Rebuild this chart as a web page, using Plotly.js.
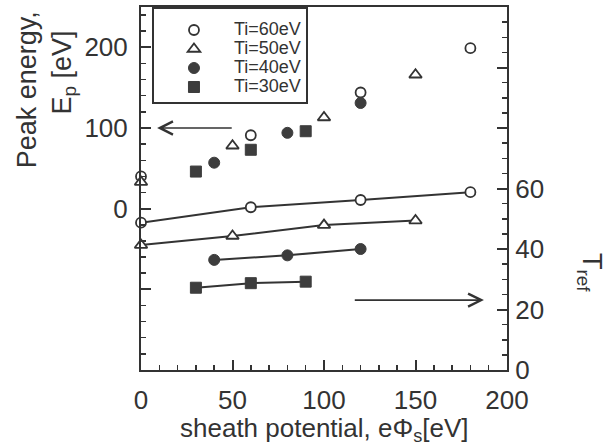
<!DOCTYPE html>
<html>
<head>
<meta charset="utf-8">
<script src="https://cdn.plot.ly/plotly-3.0.1.min.js"></script>
<style>html,body{margin:0;padding:0;background:#fff;}#chart{width:614px;height:446px;}</style>
</head>
<body>
<div id="chart"></div>
<script>
// Sheath potential (x) for each ion temperature
const phi60 = [0, 60, 120, 180];
const phi50 = [0, 50, 100, 150];
const phi40 = [40, 80, 120];
const phi30 = [30, 60, 90];

// Peak energy Ep [eV] (left axis)
const ep60 = [40, 91, 144, 199];
const ep50 = [33, 78, 113, 166];
const ep40 = [57, 94, 131];
const ep30 = [46, 73, 96];

// T_ref (right axis)
const tref60 = [48.7, 53.8, 56.2, 58.8];
const tref50 = [41.3, 44.3, 47.9, 49.4];
const tref40 = [36.4, 37.9, 40.0];
const tref30 = [27.2, 28.7, 29.2];

const seriesNames = ['Ti=60eV', 'Ti=50eV', 'Ti=40eV', 'Ti=30eV'];

const leftTickVals = [-200, -100, 0, 100, 200];
const leftTickText = ['', '', '0', '100', '200'];
const rightTickVals = [0, 20, 40, 60, 80, 100, 120];
const rightTickText = ['0', '20', '40', '60', '', '', ''];
const xTickVals = [0, 50, 100, 150, 200];

const ink = '#333333';
const fill = '#3d3d3d';
const font = 'Liberation Sans, Arial, Helvetica, sans-serif';

const markerStyles = [
  {symbol: 'circle', size: 10, color: '#ffffff', line: {color: ink, width: 1.8}},
  {symbol: 'triangle-up', size: 11, color: '#ffffff', line: {color: ink, width: 1.8}},
  {symbol: 'circle', size: 11, color: fill, line: {color: fill, width: 1}},
  {symbol: 'square', size: 11, color: fill, line: {color: fill, width: 1}}
];

const xs = [phi60, phi50, phi40, phi30];
const eps = [ep60, ep50, ep40, ep30];
const trefs = [tref60, tref50, tref40, tref30];

const traces = [];
for (let i = 0; i < 4; i++) {
  traces.push({
    x: xs[i], y: eps[i], type: 'scatter', mode: 'markers',
    name: '<span style="font-size:18px">' + seriesNames[i] + '</span>',
    yaxis: 'y', marker: markerStyles[i], cliponaxis: false, showlegend: true
  });
}
for (let i = 0; i < 4; i++) {
  traces.push({
    x: xs[i], y: trefs[i], name: seriesNames[i] + ' Tref', type: 'scatter', mode: 'lines+markers',
    yaxis: 'y2', marker: markerStyles[i], line: {color: ink, width: 2}, cliponaxis: false, showlegend: false
  });
}

const axisCommon = {
  showgrid: false, zeroline: false, showline: true, linecolor: ink, linewidth: 2,
  ticks: 'inside', tickcolor: ink, tickwidth: 2, ticklen: 10,
  tickfont: {family: font, size: 26, color: ink}
};

const layout = {
  width: 614, height: 446,
  margin: {l: 141, r: 107, t: 7, b: 76},
  paper_bgcolor: '#ffffff', plot_bgcolor: '#ffffff',
  font: {family: font, color: ink},
  showlegend: true,
  legend: {
    x: 0.03, y: 1, xanchor: 'left', yanchor: 'top',
    bordercolor: ink, borderwidth: 2, bgcolor: '#ffffff',
    font: {family: font, size: 12, color: ink},
    title: {text: ' ', font: {family: font, size: 5, color: ink}},
    itemwidth: 70
  },
  xaxis: Object.assign({}, axisCommon, {
    range: [0, 200], tickmode: 'array', tickvals: xTickVals,
    mirror: true, ticklabelstandoff: 6,
    minor: {tickmode: 'linear', tick0: 0, dtick: 10, ticks: 'inside', ticklen: 5, tickcolor: ink, tickwidth: 1.5}
  }),
  yaxis: Object.assign({}, axisCommon, {
    range: [-200, 250], tickmode: 'array', tickvals: leftTickVals, ticktext: leftTickText,
    ticklabelstandoff: 6,
    minor: {tickmode: 'linear', tick0: 0, dtick: 20, ticks: 'inside', ticklen: 5, tickcolor: ink, tickwidth: 1.5}
  }),
  yaxis2: Object.assign({}, axisCommon, {
    range: [0, 120], overlaying: 'y', side: 'right', tickmode: 'array',
    tickvals: rightTickVals, ticktext: rightTickText, ticklabelstandoff: 1,
    minor: {tickmode: 'linear', tick0: 0, dtick: 5, ticks: 'inside', ticklen: 5, tickcolor: ink, tickwidth: 1.5}
  }),
  annotations: [
    {text: 'Peak energy,', xref: 'paper', yref: 'paper', x: -0.311, y: 0.771,
     xanchor: 'center', yanchor: 'middle', textangle: -90, showarrow: false,
     font: {family: font, size: 27, color: ink}},
    {text: 'E<sub>p</sub> [eV]', xref: 'paper', yref: 'paper', x: -0.21, y: 0.82,
     xanchor: 'center', yanchor: 'middle', textangle: -90, showarrow: false,
     font: {family: font, size: 27, color: ink}},
    {text: 'T<sub>ref</sub>', xref: 'paper', yref: 'paper', x: 1.227, y: 0.27,
     xanchor: 'center', yanchor: 'middle', textangle: 90, showarrow: false,
     font: {family: font, size: 27, color: ink}},
    {text: 'sheath potential, eΦ<sub>s</sub>[eV]', xref: 'paper', yref: 'paper', x: 0.5, y: -0.165,
     xanchor: 'center', yanchor: 'middle', showarrow: false,
     font: {family: font, size: 26, color: ink}},
    {text: '', xref: 'x', yref: 'y', x: 8.8, y: 100, axref: 'x', ayref: 'y', ax: 50.4, ay: 100,
     showarrow: true, arrowhead: 5, arrowsize: 1.6, arrowwidth: 1.6, arrowcolor: ink},
    {text: '', xref: 'x', yref: 'y2', x: 187.4, y: 23.1, axref: 'x', ayref: 'y2', ax: 116, ay: 23.1,
     showarrow: true, arrowhead: 5, arrowsize: 1.6, arrowwidth: 1.6, arrowcolor: ink}
  ]
};

Plotly.newPlot('chart', traces, layout, {staticPlot: true, displayModeBar: false});
</script>
</body>
</html>
